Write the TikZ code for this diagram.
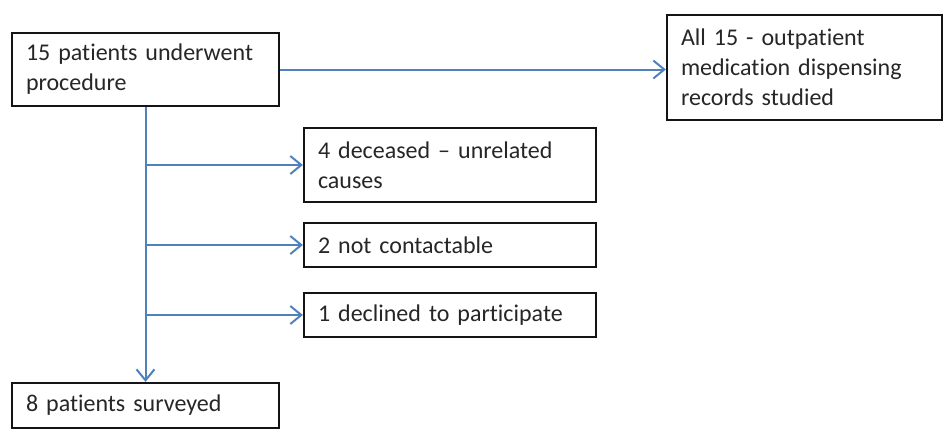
\documentclass[tikz,border=0pt]{standalone}
\usepackage{fontspec}
\setmainfont{Carlito}[RawFeature=-liga]
\usetikzlibrary{arrows.meta}
\definecolor{lineblue}{RGB}{79,129,189}
\definecolor{boxline}{RGB}{20,20,20}
\begin{document}
\begin{tikzpicture}[x=1pt,y=-1pt,
  box/.style={draw=boxline,line width=2.2pt,rectangle,align=left,inner xsep=14pt,inner ysep=0pt,
    font=\fontsize{24}{30}\selectfont,text=black!85},
  arr/.style={draw=lineblue,line width=2pt,-{Straight Barb[length=11pt,width=18pt,line width=2pt]}}]
\useasboundingbox (0,0) rectangle (945,434);
\node[box,minimum width=267pt,minimum height=73pt,text width=239pt] (b1) at (145.5,69.5) {15 patients underwent\\procedure};
\node[box,minimum width=275pt,minimum height=105pt,text width=247pt] (tr) at (804.5,67.5) {All 15 - outpatient\\medication dispensing\\records studied};
\node[box,minimum width=292pt,minimum height=74pt,text width=264pt] (dec) at (450,165) {4 deceased -- unrelated\\causes};
\node[box,minimum width=292pt,minimum height=44pt,text width=264pt] (nc) at (450,245) {2 not contactable};
\node[box,minimum width=292pt,minimum height=44pt,text width=264pt] (dl) at (450,315) {1 declined to participate};
\node[box,minimum width=267pt,minimum height=45pt,text width=239pt] (b4) at (145.5,405.5) {8 patients surveyed};
\draw[arr] (b1.east) -- (b1.east -| tr.west);
\draw[arr] (b1.south) -- (b1.south |- b4.north);
\draw[arr] (b1.south |- dec.west) -- (dec.west);
\draw[arr] (b1.south |- nc.west) -- (nc.west);
\draw[arr] (b1.south |- dl.west) -- (dl.west);
\end{tikzpicture}
\end{document}
